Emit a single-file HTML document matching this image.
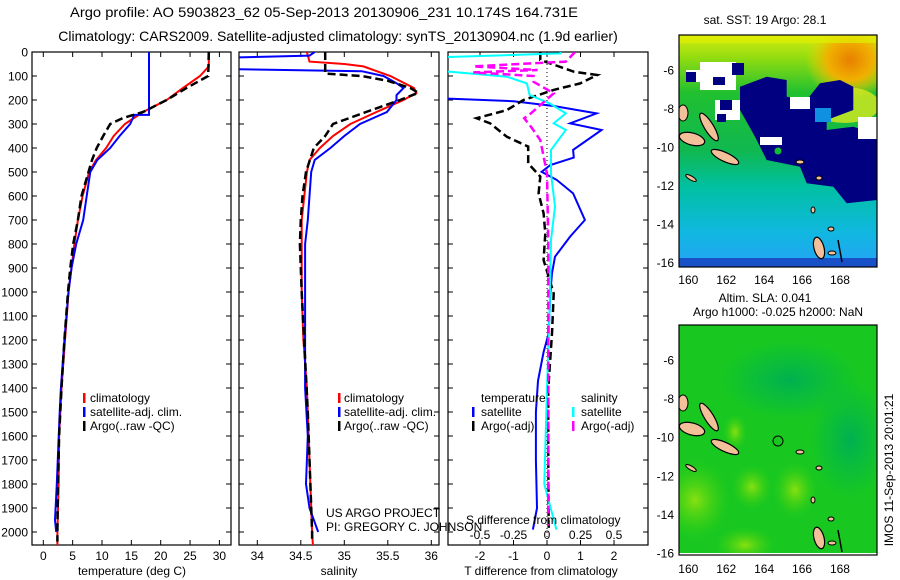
<!DOCTYPE html>
<html><head><meta charset="utf-8"><style>
html,body{margin:0;padding:0;background:#fff;}
svg{display:block;font-family:"Liberation Sans",sans-serif;}
</style></head><body>
<svg id="fig" width="900" height="580" viewBox="0 0 900 580" xmlns="http://www.w3.org/2000/svg">
<defs>
<clipPath id="c1"><rect x="32" y="52" width="199" height="493"/></clipPath>
<clipPath id="c2"><rect x="239" y="52" width="200" height="493"/></clipPath>
<clipPath id="c3"><rect x="448" y="52" width="200" height="493"/></clipPath>
<clipPath id="cm1"><rect x="679" y="35" width="198" height="232"/></clipPath>
<clipPath id="cm2"><rect x="679" y="325" width="198" height="230"/></clipPath>
<linearGradient id="sstg" x1="0" y1="0" x2="0" y2="1">
<stop offset="0" stop-color="#d8ec10"/><stop offset="0.1" stop-color="#90dc10"/><stop offset="0.25" stop-color="#20c030"/><stop offset="0.5" stop-color="#10b850"/><stop offset="0.65" stop-color="#00c0a0"/><stop offset="0.85" stop-color="#10b8e0"/><stop offset="0.96" stop-color="#20a8f0"/><stop offset="1" stop-color="#1060d0"/>
</linearGradient>
<radialGradient id="orange" cx="0.5" cy="0.5" r="0.5"><stop offset="0" stop-color="#e88000"/><stop offset="0.5" stop-color="#f0b000"/><stop offset="1" stop-color="#f0d800" stop-opacity="0"/></radialGradient>
<radialGradient id="lg" cx="0.5" cy="0.5" r="0.5"><stop offset="0" stop-color="#88e010"/><stop offset="1" stop-color="#40d010" stop-opacity="0"/></radialGradient>
<radialGradient id="tg" cx="0.5" cy="0.5" r="0.5"><stop offset="0" stop-color="#00b050"/><stop offset="1" stop-color="#00b850" stop-opacity="0"/></radialGradient>
<g id="islands">
<ellipse cx="692" cy="139" rx="13" ry="6" transform="rotate(15 692 139)" fill="#f4c09a" stroke="#000" stroke-width="1.2"/>
<ellipse cx="709" cy="127" rx="16" ry="4.5" transform="rotate(58 709 127)" fill="#f4c09a" stroke="#000" stroke-width="1.2"/>
<ellipse cx="725" cy="157" rx="15" ry="4.5" transform="rotate(25 725 157)" fill="#f4c09a" stroke="#000" stroke-width="1.2"/>
<ellipse cx="683" cy="113" rx="5" ry="8" fill="#f4c09a" stroke="#000" stroke-width="1"/>
<ellipse cx="691" cy="178" rx="6" ry="2" transform="rotate(30 691 178)" fill="#f4c09a" stroke="#000" stroke-width="1"/>
<ellipse cx="800" cy="162" rx="4" ry="2" fill="#f4c09a" stroke="#000" stroke-width="1"/>
<ellipse cx="819" cy="248" rx="5" ry="11" transform="rotate(-15 819 248)" fill="#f4c09a" stroke="#000" stroke-width="1.2"/>
<ellipse cx="832" cy="253" rx="4" ry="2" fill="#f4c09a" stroke="#000" stroke-width="1"/>
<ellipse cx="831" cy="229" rx="3" ry="2" fill="#f4c09a" stroke="#000" stroke-width="1"/>
<ellipse cx="813" cy="210" rx="2" ry="3" fill="#f4c09a" stroke="#000" stroke-width="1"/>
<ellipse cx="819" cy="178" rx="3" ry="2" fill="#f4c09a" stroke="#000" stroke-width="1"/>
<line x1="838" y1="240" x2="842" y2="262" stroke="#000" stroke-width="1.5"/>
</g>
</defs>

<text x="70" y="17" font-size="14" textLength="508" lengthAdjust="spacingAndGlyphs">Argo profile: AO 5903823_62 05-Sep-2013 20130906_231 10.174S 164.731E</text>
<text x="338" y="41" font-size="14" text-anchor="middle">Climatology: CARS2009. Satellite-adjusted climatology: synTS_20130904.nc (1.9d earlier)</text>

<g id="axes"></g>
<g id="series"></g>

<g font-size="12">
<rect x="83" y="393" width="2.5" height="10" fill="#f00"/><text x="90" y="402">climatology</text>
<rect x="83" y="407" width="2.5" height="10" fill="#00f"/><text x="90" y="416">satellite-adj. clim.</text>
<rect x="83" y="421" width="2.5" height="10" fill="#000"/><text x="90" y="430">Argo(..raw -QC)</text>
</g>
<g font-size="12">
<rect x="338" y="393" width="2.5" height="10" fill="#f00"/><text x="344" y="402">climatology</text>
<rect x="338" y="407" width="2.5" height="10" fill="#00f"/><text x="344" y="416">satellite-adj. clim.</text>
<rect x="338" y="421" width="2.5" height="10" fill="#000"/><text x="344" y="430">Argo(..raw -QC)</text>
</g>
<g font-size="12">
<text x="481" y="402">temperature</text>
<rect x="472" y="407" width="2.5" height="10" fill="#00f"/><text x="481" y="416">satellite</text>
<rect x="472" y="421" width="2.5" height="10" fill="#000"/><text x="481" y="430">Argo(-adj)</text>
<text x="581" y="402">salinity</text>
<rect x="572" y="407" width="2.5" height="10" fill="#0ff"/><text x="581" y="416">satellite</text>
<rect x="572" y="421" width="2.5" height="10" fill="#f0f"/><text x="581" y="430">Argo(-adj)</text>
</g>
<text x="326" y="517" font-size="12">US ARGO PROJECT</text>
<text x="326" y="531" font-size="12">PI: GREGORY C. JOHNSON</text>
<text x="466" y="524" font-size="12">S difference from climatology</text>

<text x="132" y="575" font-size="12" text-anchor="middle">temperature (deg C)</text>
<text x="339" y="575" font-size="12" text-anchor="middle">salinity</text>
<text x="541" y="575" font-size="12" text-anchor="middle">T difference from climatology</text>

<text x="765" y="24" font-size="12" text-anchor="middle">sat. SST: 19 Argo: 28.1</text>
<g clip-path="url(#cm1)">
<rect x="679" y="35" width="198" height="232" fill="url(#sstg)"/>
<ellipse cx="850" cy="60" rx="45" ry="40" fill="url(#orange)"/>
<ellipse cx="845" cy="105" rx="35" ry="18" fill="#d8e820" opacity="0.8"/>
<rect x="679" y="35" width="198" height="8" fill="#e0f000" opacity="0.7"/>
<rect x="679" y="258" width="198" height="9" fill="#1850c8"/>
<polygon points="740,86.7 766.7,76.7 786.7,80 786.7,96.7 806.7,100 820,83.3 840,80 853.3,86.7 853.3,110 826.7,120 826.7,130 853.3,126.7 873.3,133.3 877.3,140 877.3,200 846.7,203.3 833.3,186.7 806.7,183.3 800,166.7 766.7,160 755,136.7 740,110" fill="#000080"/>
<rect x="700" y="62" width="36" height="28" fill="#fff"/>
<rect x="686" y="70" width="20" height="12" fill="#fff"/>
<rect x="715" y="100" width="25" height="20" fill="#fff"/>
<rect x="760" y="137" width="22" height="8" fill="#fff"/>
<rect x="790" y="97" width="20" height="12" fill="#fff"/>
<rect x="858" y="117" width="19" height="22" fill="#fff"/>
<rect x="686" y="72" width="10" height="10" fill="#000080"/>
<rect x="713" y="77" width="12" height="8" fill="#000080"/>
<rect x="732" y="63" width="12" height="12" fill="#000080"/>
<rect x="720" y="100" width="12" height="10" fill="#000080"/>
<rect x="717" y="114" width="9" height="8" fill="#000080"/>
<rect x="815" y="108" width="16" height="14" fill="#1090e0"/>
<use href="#islands"/>
<circle cx="778" cy="151" r="4" fill="#10c030" stroke="#000080" stroke-width="1"/>
</g>
<rect x="679" y="35" width="198" height="232" fill="none" stroke="#000" stroke-width="1.2"/>

<text x="765" y="302" font-size="12" text-anchor="middle">Altim. SLA: 0.041</text>
<text x="778" y="316" font-size="12" text-anchor="middle">Argo h1000: -0.025 h2000: NaN</text>
<g clip-path="url(#cm2)">
<rect x="679" y="325" width="198" height="230" fill="#18c820"/>
<ellipse cx="790" cy="380" rx="70" ry="40" fill="url(#tg)"/>
<ellipse cx="850" cy="440" rx="40" ry="60" fill="url(#tg)"/>
<ellipse cx="695" cy="500" rx="35" ry="40" fill="url(#lg)"/>
<ellipse cx="752" cy="487" rx="20" ry="22" fill="url(#lg)"/>
<ellipse cx="795" cy="490" rx="22" ry="28" fill="url(#lg)"/>
<ellipse cx="745" cy="545" rx="30" ry="18" fill="url(#lg)"/>
<ellipse cx="735" cy="432" rx="12" ry="18" fill="url(#lg)"/>
<rect x="679" y="553" width="198" height="2" fill="#fff"/>
<use href="#islands" transform="translate(0,290)"/>
<circle cx="778" cy="441" r="5" fill="none" stroke="#000" stroke-width="1"/>
</g>
<rect x="679" y="325" width="198" height="230" fill="none" stroke="#000" stroke-width="1.2"/>
<text x="893" y="470" font-size="12" text-anchor="middle" transform="rotate(-90 893 470)">IMOS 11-Sep-2013 20:01:21</text>

<script>
const depthTicks = [0,100,200,300,400,500,600,700,800,900,1000,1100,1200,1300,1400,1500,1600,1700,1800,1900,2000];
const tempTicks = [0,5,10,15,20,25,30];
const salTicks = [34,34.5,35,35.5,36];
const tdiffTicks = [-2,-1,0,1,2];
const sdiffTicks = [-0.5,-0.25,0,0.25,0.5];
const latTicks = [-6,-8,-10,-12,-14,-16];
const lonTicks = [160,162,164,166,168];

const tempClimDepth = [0,60,100,150,200,250,300,350,400,450,500,600,700,800,900,1000,1100,1200,1400,1600,1800,2000,2060];
const tempClim = [28.2,28.2,26.7,23.8,21,17,13.9,12,10.7,9,7.8,6.7,5.9,5.3,4.8,4.3,4.0,3.7,3.1,2.7,2.6,2.4,2.4];
const tempSatDepth = [0,262,262,300,350,400,450,500,600,700,800,900,1000,1200,1400,1500,1800,1950,2000];
const tempSat = [18,18,15.5,14.8,13,11.4,9.2,8,7.4,6.8,5.6,4.8,4.3,3.6,3.0,2.8,2.3,2.0,2.2];
const tempArgoDepth = [0,100,150,200,250,275,300,350,400,450,500,600,700,800,900,1000,1200,1400,1600,1800,2000,2040];
const tempArgo = [28.2,28.1,24.4,21,17,13.6,11.4,10.2,9.1,8.3,7.7,6.5,5.9,5.1,4.6,4.2,3.6,3.1,2.7,2.5,2.4,2.4];

const salClimDepth = [0,40,50,60,100,150,170,200,250,300,350,400,450,500,600,700,1000,1200,1400,1600,2000,2060];
const salClim = [34.57,34.6,35.0,35.22,35.53,35.8,35.83,35.68,35.37,35.07,34.87,34.72,34.6,34.57,34.54,34.51,34.51,34.53,34.57,34.59,34.63,34.64];
const salSatDepth = [0,15,25,70,80,100,130,150,180,200,250,300,350,400,450,500,600,700,800,1000,1200,1400,1600,1800,1900,2000];
const salSat = [34.66,34.6,33.5,33.5,35.2,35.45,35.6,35.68,35.6,35.6,35.49,35.18,35.0,34.84,34.66,34.62,34.6,34.58,34.55,34.55,34.55,34.55,34.58,34.56,34.6,34.7];
const salArgoDepth = [0,90,100,120,150,170,200,250,300,350,400,500,600,700,800,1000,1500,2000,2040];
const salArgo = [34.78,34.78,35.2,35.5,35.76,35.85,35.64,35.25,34.87,34.78,34.65,34.56,34.52,34.5,34.49,34.51,34.58,34.63,34.63];

const tdSatDepth = [0,193,205,225,256,297,325,408,440,471,499,533,589,700,769,853,922,1000,1172,1250,1370,1500,1700,1900,1990];
const tdSat = [-3.2,-3.2,-1,0.2,1.48,0.69,1.63,0.78,0.8,0.1,-0.16,0.29,0.78,1.13,0.69,0.24,0.15,0.1,0.05,-0.1,-0.27,-0.33,-0.33,-0.3,-0.42];
const tdArgoDepth = [0,33,82,96,131,158,200,242,276,297,353,394,464,519,589,672,756,867,1006,1172,1400,1700,1990];
const tdArgo = [-0.2,-0.2,0.8,1.5,0.99,0.2,-0.7,-1.2,-2.1,-1.7,-1.2,-0.56,-0.56,-0.2,-0.25,-0.1,-0.05,-0.1,0.2,0.15,0.04,0.04,0.05];
const sdSatDepth = [0,6,26,80,82,103,131,179,214,256,297,325,408,506,644,783,1061,1400,1800,1990];
const sdSat = [0.1,0.1,-1,-1,-0.72,-0.3,-0.15,-0.13,0.02,0.14,0.05,0.14,0.03,0.03,0.06,0.03,0.02,0,-0.02,0.07];
const sdArgoDepth = [0,40,60,75,85,100,124,172,256,276,311,367,506,800,1200,1600,1990];
const sdArgo = [0.21,0.14,-0.55,-0.07,-0.55,-0.1,-0.1,0.05,-0.12,-0.17,-0.12,-0.05,0,0.01,0.01,0.01,0.01];

const yD = d => 52 + 0.24 * d;
const xT = t => 43.3 + 5.87 * t;
const xS = s => 257.3 + 87 * (s - 34);
const xTd = v => 547 + 33.5 * v;
const xSd = v => 547 + 134 * v;
const xLon = l => 688.3 + 18.96 * (l - 160);
const yLat1 = a => 70 + 19.27 * (-6 - a);
const yLat2 = a => 360 + 19.3 * (-6 - a);

const NS = "http://www.w3.org/2000/svg";
const axes = document.getElementById('axes');
const series = document.getElementById('series');
function mk(tag, parent) { const e = document.createElementNS(NS, tag); parent.appendChild(e); return e; }

const panels = [
  {x:32, w:199, name:'temperature-panel'},
  {x:239, w:200, name:'salinity-panel'},
  {x:448, w:200, name:'difference-panel'}
];
panels.forEach(p => {
  const r = mk('rect', axes);
  r.setAttribute('x', p.x); r.setAttribute('y', 52); r.setAttribute('width', p.w); r.setAttribute('height', 493);
  r.setAttribute('fill', 'none'); r.setAttribute('stroke', '#000'); r.setAttribute('stroke-width', '1.2');
  
  
  depthTicks.forEach(d => {
    [[p.x, p.x + 5], [p.x + p.w - 5, p.x + p.w]].forEach(([a, b]) => {
      const l = mk('line', axes);
      l.setAttribute('x1', a); l.setAttribute('x2', b); l.setAttribute('y1', yD(d)); l.setAttribute('y2', yD(d));
      l.setAttribute('stroke', '#000');
      
      
    });
  });
});
depthTicks.forEach(d => {
  const t = mk('text', axes);
  t.setAttribute('x', 28); t.setAttribute('y', yD(d) + 4.5); t.setAttribute('font-size', '12'); t.setAttribute('text-anchor', 'end');
  t.textContent = d;
  
  
});
function xticks(ticks, fx, labelY, top) {
  ticks.forEach(v => {
    const x = fx(v);
    const l = mk('line', axes);
    l.setAttribute('x1', x); l.setAttribute('x2', x); l.setAttribute('y1', 540); l.setAttribute('y2', 545); l.setAttribute('stroke', '#000');
    
    
    if (top) {
      const l2 = mk('line', axes);
      l2.setAttribute('x1', x); l2.setAttribute('x2', x); l2.setAttribute('y1', 52); l2.setAttribute('y2', 57); l2.setAttribute('stroke', '#000');
      
      
    }
    const t = mk('text', axes);
    t.setAttribute('x', x); t.setAttribute('y', labelY); t.setAttribute('font-size', '12'); t.setAttribute('text-anchor', 'middle');
    t.textContent = v;
    
    
  });
}
xticks(tempTicks, xT, 560, true);
xticks(salTicks, xS, 560, true);
xticks(tdiffTicks, xTd, 560, true);
sdiffTicks.forEach(v => {
  const t = mk('text', axes);
  t.setAttribute('x', xSd(v)); t.setAttribute('y', 539); t.setAttribute('font-size', '12'); t.setAttribute('text-anchor', 'middle');
  t.textContent = v;
  
  
});
const z = mk('line', axes);
z.setAttribute('x1', xTd(0)); z.setAttribute('x2', xTd(0)); z.setAttribute('y1', 52); z.setAttribute('y2', 545);
z.setAttribute('stroke', '#000'); z.setAttribute('stroke-dasharray', '1,3');



function line(depths, vals, fx, color, width, dash, clip, name) {
  const p = mk('path', series);
  p.setAttribute('d', depths.map((d, i) => (i ? 'L' : 'M') + fx(vals[i]).toFixed(1) + ',' + yD(d).toFixed(1)).join(''));
  p.setAttribute('fill', 'none'); p.setAttribute('stroke', color); p.setAttribute('stroke-width', width);
  if (dash) p.setAttribute('stroke-dasharray', dash);
  p.setAttribute('clip-path', 'url(#' + clip + ')');
  
  
}
line(tempClimDepth, tempClim, xT, '#f00', 2, null, 'c1', 'temp-climatology-line');
line(tempSatDepth, tempSat, xT, '#00f', 2, null, 'c1', 'temp-satellite-line');
line(tempArgoDepth, tempArgo, xT, '#000', 2.5, '8,4', 'c1', 'temp-argo-line');
line(salClimDepth, salClim, xS, '#f00', 2, null, 'c2', 'sal-climatology-line');
line(salSatDepth, salSat, xS, '#00f', 2, null, 'c2', 'sal-satellite-line');
line(salArgoDepth, salArgo, xS, '#000', 2.5, '8,4', 'c2', 'sal-argo-line');
line(tdSatDepth, tdSat, xTd, '#00f', 2, null, 'c3', 'tdiff-satellite-line');
line(tdArgoDepth, tdArgo, xTd, '#000', 2.5, '8,4', 'c3', 'tdiff-argo-line');
line(sdSatDepth, sdSat, xSd, '#0ff', 2, null, 'c3', 'sdiff-satellite-line');
line(sdArgoDepth, sdArgo, xSd, '#f0f', 2.5, '8,4', 'c3', 'sdiff-argo-line');

function mapTicks(top, bottom, yLat, labelY) {
  lonTicks.forEach(l => {
    const x = xLon(l);
    [[top, top + 4], [bottom - 4, bottom]].forEach(([a, b]) => {
      const k = mk('line', axes);
      k.setAttribute('x1', x); k.setAttribute('x2', x); k.setAttribute('y1', a); k.setAttribute('y2', b); k.setAttribute('stroke', '#000');
      
      
    });
    const t = mk('text', axes);
    t.setAttribute('x', x); t.setAttribute('y', labelY); t.setAttribute('font-size', '12'); t.setAttribute('text-anchor', 'middle');
    t.textContent = l;
    
    
  });
  latTicks.forEach(a => {
    const y = yLat(a);
    [[679, 683], [873, 877]].forEach(([p, q]) => {
      const k = mk('line', axes);
      k.setAttribute('x1', p); k.setAttribute('x2', q); k.setAttribute('y1', y); k.setAttribute('y2', y); k.setAttribute('stroke', '#000');
      
      
    });
    const t = mk('text', axes);
    t.setAttribute('x', 674); t.setAttribute('y', y + 4.5); t.setAttribute('font-size', '12'); t.setAttribute('text-anchor', 'end');
    t.textContent = a;
    
    
  });
}
mapTicks(35, 267, yLat1, 284);
mapTicks(325, 555, yLat2, 573);
</script>
</svg>
</body></html>
